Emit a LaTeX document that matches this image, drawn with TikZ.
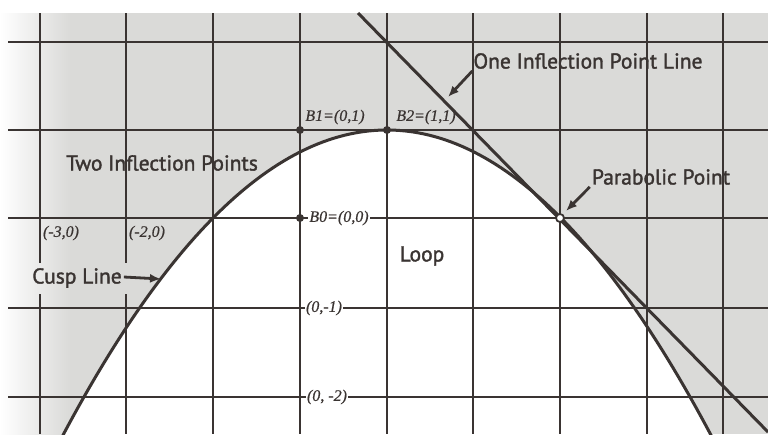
\documentclass[tikz,border=0pt]{standalone}
\usepackage{fontspec}
\setmainfont{Liberation Serif}[ItalicFeatures={FakeBold=0.6}]
\newfontfamily\lblsans[FakeBold=1.6]{PT Sans}
\usetikzlibrary{arrows.meta}
\definecolor{bggray}{RGB}{218,218,216}
\definecolor{ink}{RGB}{58,52,50}
\begin{document}
\begin{tikzpicture}[x=1pt,y=-1pt,
  gridthick/.style={ink,line width=2.3pt},
  gridthin/.style={ink,line width=1.4pt},
  curveline/.style={ink,line width=3pt},
  sanslbl/.style={font=\lblsans\fontsize{21.5}{23}\selectfont,text=ink,inner sep=0pt},
  seriflbl/.style={font=\itshape\fontsize{16}{18}\selectfont,text=ink,inner sep=1.5pt},
  ptarrow/.style={ink,line width=2.8pt,-{Latex[length=11pt,width=9pt]}},
  dotpt/.style={circle,fill=ink,inner sep=0pt,minimum size=8pt},
  openpt/.style={circle,draw=ink,fill=white,line width=1.8pt,inner sep=0pt,minimum size=8pt},
]
\useasboundingbox (0,0) rectangle (768,434);
\clip (0,0) rectangle (768,434);
\fill[white] (0,0) rectangle (768,434);
\fill[bggray] (8,13) rectangle (768,434);
\shade[left color=white,right color=bggray] (0,13) rectangle (70,434);
% grid (thick, gray region)
\foreach \x in {40,126}{
  \draw[gridthick] (\x,13) -- (\x,263);
  \draw[gridthick] (\x,294) -- (\x,434);}
\foreach \x in {213,300,387,473,560,647,723}
  \draw[gridthick] (\x,13) -- (\x,434);
\foreach \y in {42,130,218,308,397}
  \draw[gridthick] (8,\y) -- (768,\y);
% loop region (white)
\fill[white] plot[domain=-2.8:4.8,samples=120] ({300+87*\x},{130+22*(\x-1)*(\x-1)}) -- cycle;
\begin{scope}
  \clip plot[domain=-2.8:4.8,samples=120] ({300+87*\x},{130+22*(\x-1)*(\x-1)}) -- cycle;
  \foreach \x in {40,126,213,300,387,473,560,647,723}
    \draw[gridthin] (\x,13) -- (\x,434);
  \foreach \y in {42,130,218,308,397}
    \draw[gridthin] (8,\y) -- (768,\y);
\end{scope}
% cusp curve and tangent line
\draw[curveline] plot[domain=-2.8:4.8,samples=120] ({300+87*\x},{130+22*(\x-1)*(\x-1)});
\coordinate (tlA) at (358,13);
\coordinate (tlB) at (768,432);
\draw[curveline] (tlA) -- (tlB);
% points
\node[dotpt] (B1) at (300,130) {};
\node[dotpt] (B2) at (387,130) {};
\node[dotpt] (B0) at (300,218) {};
\node[openpt] (P) at (560,218) {};
% serif labels
\node[seriflbl] (lB1) at (335,117) {B1=(0,1)};
\node[seriflbl] (lB2) at (426,117) {B2=(1,1)};
\node[seriflbl,fill=white] (lB0) at (339,218) {B0=(0,0)};
\node[seriflbl,fill=white] (lm1) at (324,308) {(0,-1)};
\node[seriflbl,fill=white] (lm2) at (327,397) {(0, -2)};
\node[seriflbl] (lm3) at (61,233) {(-3,0)};
\node[seriflbl] (lm2x) at (147,233) {(-2,0)};
% sans labels
\node[sanslbl] (two) at (162,163) {Two Inflection Points};
\node[sanslbl] (oil) at (588,61) {One Inflection Point Line};
\node[sanslbl] (pp) at (661,177) {Parabolic Point};
\node[sanslbl] (loop) at (422,256) {Loop};
\node[sanslbl] (cusp) at (77,278) {Cusp Line};
% arrows
\coordinate (oiltip) at (448,97);
\coordinate (pptip) at (566,211);
\coordinate (cusptip) at (161,279);
\draw[ptarrow] ([xshift=-1pt,yshift=-2pt]oil.south west) -- (oiltip);
\draw[ptarrow] ([xshift=-2pt,yshift=-2pt]pp.south west) -- (pptip);
\draw[ptarrow] ([xshift=2pt,yshift=1pt]cusp.east) -- (cusptip);
\end{tikzpicture}
\end{document}
